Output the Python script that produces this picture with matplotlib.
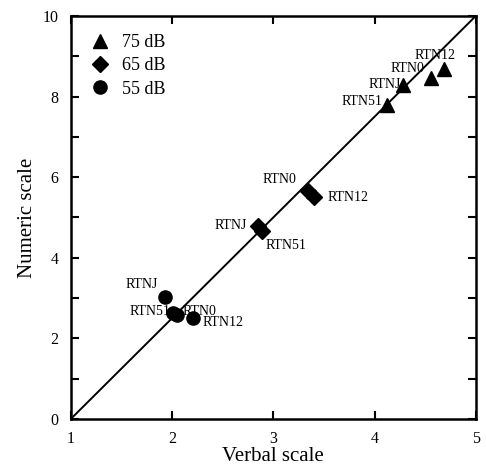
"""Numeric vs verbal scale scatter, three levels, with identity-ish diagonal."""

import matplotlib

matplotlib.use("Agg")
import matplotlib.pyplot as plt
from matplotlib.ticker import MultipleLocator

# ---------------------------------------------------------------------------
# Data
# ---------------------------------------------------------------------------

names = ["RTN51", "RTNJ", "RTN0", "RTN12"]

verbal_75 = [4.12, 4.28, 4.56, 4.69]
numeric_75 = [7.78, 8.28, 8.45, 8.68]

verbal_65 = [2.89, 2.85, 3.34, 3.40]
numeric_65 = [4.65, 4.78, 5.66, 5.50]

verbal_55 = [2.05, 1.93, 2.01, 2.21]
numeric_55 = [2.57, 3.02, 2.63, 2.50]

line_x = [1, 5]
line_y = [0, 10]

# label anchors (x, y, ha) per level, same order as names
lab_75 = [(3.88, 7.88, "center"), (4.10, 8.30, "center"), (4.32, 8.70, "center"), (4.60, 9.02, "center")]
lab_65 = [(2.92, 4.30, "left"), (2.74, 4.80, "right"), (3.06, 5.94, "center"), (3.54, 5.50, "left")]
lab_55 = [(1.98, 2.66, "right"), (1.86, 3.33, "right"), (2.10, 2.66, "left"), (2.30, 2.38, "left")]

# ---------------------------------------------------------------------------
# Plot
# ---------------------------------------------------------------------------

plt.rcParams["font.family"] = ["Liberation Serif", "DejaVu Serif"]

fig = plt.figure(figsize=(4.86, 4.69), dpi=100)
ax = fig.add_axes([0.146, 0.107, 0.833, 0.859])

ax.plot(line_x, line_y, color="black", lw=1.4, zorder=1)

ax.plot(verbal_75, numeric_75, "^", color="black", ms=10, ls="none", label="75 dB", zorder=3)
ax.plot(verbal_65, numeric_65, "D", color="black", ms=8.5, ls="none", label="65 dB", zorder=3)
ax.plot(verbal_55, numeric_55, "o", color="black", ms=9.5, ls="none", label="55 dB", zorder=3)

for labs in (lab_75, lab_65, lab_55):
    for name, (tx, ty, ha) in zip(names, labs):
        ax.text(tx, ty, name, ha=ha, va="center", fontsize=10)

ax.set_xlim(1, 5)
ax.set_ylim(0, 10)
ax.xaxis.set_major_locator(MultipleLocator(1))
ax.yaxis.set_major_locator(MultipleLocator(2))
ax.yaxis.set_minor_locator(MultipleLocator(1))
ax.tick_params(which="both", direction="in", top=True, right=True,
               labelsize=11.5, width=1.5, length=6)
ax.tick_params(axis="x", pad=9)
ax.tick_params(axis="y", pad=9)
for sp in ax.spines.values():
    sp.set_linewidth(1.8)

ax.set_xlabel("Verbal scale", fontsize=15, labelpad=0)
ax.set_ylabel("Numeric scale", fontsize=15, labelpad=4)

ax.legend(loc="upper left", frameon=False, fontsize=13, handletextpad=0.6,
          labelspacing=0.35, borderaxespad=0.6, handlelength=1.2)

fig.savefig("out.png", dpi=100)
